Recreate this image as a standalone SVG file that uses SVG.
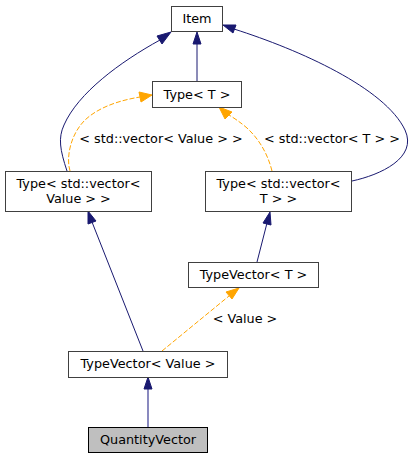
<svg xmlns="http://www.w3.org/2000/svg" width="416" height="459" viewBox="0 0 416 459">
<style>
.n rect{fill:#fff;stroke:#404040;stroke-width:1}
.n.g rect{fill:#bfbfbf;stroke:#000}
text{font-family:"DejaVu Sans",sans-serif;font-size:12.8px;fill:#000;text-anchor:middle}
.e{fill:none;stroke:midnightblue;stroke-width:1}
.t{fill:none;stroke:orange;stroke-width:1;stroke-dasharray:5,2}
.ah{fill:midnightblue;stroke:midnightblue}
.ao{fill:orange;stroke:orange}
</style>
<g id="connectors">
<path class="e" d="M197,81 L197,44"/>
<polygon class="ah" points="197,32 193,44 201,44"/>
<path class="e" d="M67,171 C60,150 58,138 64,125 C78,93 120,62 160,40"/>
<polygon class="ah" points="171,32 157,36 162,44"/>
<path class="e" d="M352,181 C380,175 418,158 405,130 C385,88 300,50 234,29"/>
<polygon class="ah" points="223,25 233,33 236,25"/>
<path class="t" d="M70,171 C66,158 70,135 85,120 C100,106 122,100 140,97"/>
<polygon class="ao" points="152,95 139,92 141,102"/>
<text x="161" y="142.5">&lt; std::vector&lt; Value &gt; &gt;</text>
<path class="t" d="M272,171 C268,155 260,140 247,128 C240,122 234,118 229,115"/>
<polygon class="ao" points="219,107 225,119 232,112"/>
<text x="332" y="142.5">&lt; std::vector&lt; T &gt; &gt;</text>
<path class="e" d="M257,262 L267,223"/>
<polygon class="ah" points="270,212 263,223 271,225"/>
<path class="e" d="M143,351 L92,222"/>
<polygon class="ah" points="88,211 88,224 96,221"/>
<path class="t" d="M162,351 L229,296"/>
<polygon class="ao" points="239,288 226,292 232,299"/>
<text x="245" y="322.5">&lt; Value &gt;</text>
<path class="e" d="M148,427 L148,389" style="stroke:#4b4b9d;stroke-width:1.3"/>
<polygon class="ah" points="148,377 144,389 152,389"/>
</g>
<g id="node-item" class="n"><rect x="171.5" y="6.5" width="51" height="25"/><text x="197" y="22.5">Item</text></g>
<g id="node-typeT" class="n"><rect x="152.5" y="81.5" width="89" height="26"/><text x="197" y="98.5">Type&lt; T &gt;</text></g>
<g id="node-typeVecValue" class="n"><rect x="5.5" y="171.5" width="146" height="40"/><text x="78.5" y="187.5">Type&lt; std::vector&lt;</text><text x="78.5" y="202.5">Value &gt; &gt;</text></g>
<g id="node-typeVecT" class="n"><rect x="205.5" y="171.5" width="146" height="40"/><text x="278.5" y="187.5">Type&lt; std::vector&lt;</text><text x="278.5" y="202.5">T &gt; &gt;</text></g>
<g id="node-typeVectorT" class="n"><rect x="188.5" y="262.5" width="130" height="25"/><text x="253.5" y="278.5">TypeVector&lt; T &gt;</text></g>
<g id="node-typeVectorValue" class="n"><rect x="68.5" y="351.5" width="159" height="26"/><text x="148" y="367.5">TypeVector&lt; Value &gt;</text></g>
<g id="node-quantityVector" class="n g"><rect x="88.5" y="427.5" width="119" height="25"/><text x="148" y="443.5">QuantityVector</text></g>
</svg>
